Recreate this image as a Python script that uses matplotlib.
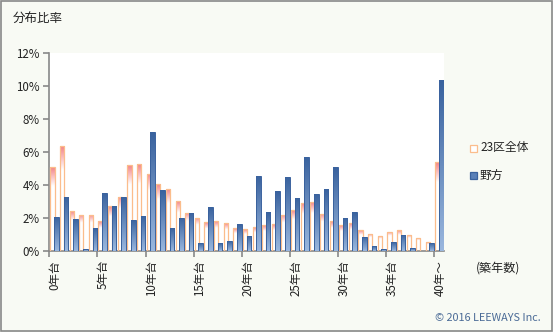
import numpy as np
import matplotlib.pyplot as plt
from matplotlib.colors import LinearSegmentedColormap

plt.rcParams['font.family'] = ['Noto Sans CJK JP', 'DejaVu Sans']

# 築年数ごとの分布比率 (%)
years = list(range(41))
ward23 = [5.08, 6.35, 2.42, 2.18, 2.18, 1.81, 2.72, 3.27, 5.20, 5.26,
          4.66, 4.05, 3.75, 3.02, 2.30, 2.00, 1.75, 1.81, 1.69, 1.39,
          1.33, 1.45, 1.57, 1.63, 2.18, 2.48, 2.90, 2.96, 2.24, 1.81,
          1.57, 1.69, 1.27, 1.03, 0.91, 1.15, 1.27, 0.97, 0.79, 0.54,
          5.38]
nogata = [2.06, 3.27, 1.94, 0.12, 1.39, 3.51, 2.72, 3.27, 1.88, 2.12,
          7.20, 3.69, 1.39, 2.00, 2.30, 0.48, 2.66, 0.48, 0.60, 1.63,
          0.91, 4.54, 2.36, 3.63, 4.48, 3.21, 5.69, 3.45, 3.75, 5.08,
          2.00, 2.36, 0.85, 0.30, 0.12, 0.54, 0.97, 0.18, 0.00, 0.48,
          10.34]
tick_pos = [0, 5, 10, 15, 20, 25, 30, 35, 40]
tick_labels = ['0年台', '5年台', '10年台', '15年台', '20年台', '25年台',
               '30年台', '35年台', '40年～']

bg = '#f8faf4'
fig = plt.figure(figsize=(5.53, 3.32), dpi=100, facecolor=bg)
ax = fig.add_axes([49.3 / 553, 1 - 251 / 332, (444 - 49.3) / 553, (251 - 52.7) / 332])
ax.set_facecolor('white')

pink_cmap = LinearSegmentedColormap.from_list(
    'pk', [(0, '#ffffff'), (0.78, '#ffffff'), (1.0, '#f4868a')])
blue_cmap = LinearSegmentedColormap.from_list('bl', ['#9ab7de', '#39629e'])
grad = np.linspace(0, 1, 64).reshape(-1, 1)

x = np.arange(len(years))
w = 0.44
bars_p = ax.bar(x - 0.17, ward23, width=w, facecolor='none', edgecolor='#fbbd8c',
                linewidth=0.9, zorder=3)
bars_b = ax.bar(x + 0.23, nogata, width=w + 0.04, facecolor='none', edgecolor='#3a629e',
                linewidth=0.7, zorder=5)


def fill_gradient(bars, cmap, z):
    for b in bars:
        h = b.get_height()
        if h <= 0:
            continue
        x0 = b.get_x()
        im = ax.imshow(grad, cmap=cmap, aspect='auto', origin='lower',
                       extent=(x0, x0 + b.get_width(), 0, h), zorder=z,
                       interpolation='bilinear')
        im.set_clip_path(b)


fill_gradient(bars_p, pink_cmap, 2)
fill_gradient(bars_b, blue_cmap, 4)

ax.set_xlim(-0.5, 40.5)
ax.set_ylim(0, 12)
ax.set_yticks(range(0, 13, 2))
ax.set_yticklabels([f'{v}%' for v in range(0, 13, 2)], fontsize=8.3, color='#222222')
ax.set_xticks([p - 0.5 for p in tick_pos])
ax.set_xticklabels([])
for p, lab in zip(tick_pos, tick_labels):
    ax.text(p + 0.1, -0.55, lab, rotation=90, ha='center', va='top',
            fontsize=8.3, color='#222222')

for side in ['top', 'right']:
    ax.spines[side].set_visible(False)
for side in ['left', 'bottom']:
    ax.spines[side].set_color('#888888')
    ax.spines[side].set_linewidth(1.2)
ax.tick_params(axis='both', direction='out', length=4, color='#888888', width=1.2)
ax.tick_params(axis='y', pad=3)

fig.text(13 / 553, 1 - 18 / 332, '分布比率', fontsize=9, va='center', color='#222222')
fig.text(476 / 553, 1 - 268 / 332, '(築年数)', fontsize=8.7, va='center', color='#222222')

# legend
fig.patches.append(plt.Rectangle((470 / 553, 1 - 152 / 332), 7 / 553, 7 / 332,
                                 transform=fig.transFigure, facecolor='white',
                                 edgecolor='#fbbd8c', linewidth=0.9))
fig.patches.append(plt.Rectangle((470 / 553, 1 - 179 / 332), 7 / 553, 7 / 332,
                                 transform=fig.transFigure, facecolor='#5a80b8',
                                 edgecolor='#3a629e', linewidth=0.9))
fig.text(480 / 553, 1 - 148 / 332, '23区全体', fontsize=8.5, va='center', color='#222222')
fig.text(480 / 553, 1 - 175 / 332, '野方', fontsize=8.5, va='center', color='#222222')

fig.text(541 / 553, 1 - 318 / 332, '© 2016 LEEWAYS Inc.', fontsize=7.8, ha='right',
         va='center', color='#4a6a96')

fig.patches.append(plt.Rectangle((1 / 553, 1 / 332), 551 / 553, 330 / 332,
                                 transform=fig.transFigure, facecolor='none',
                                 edgecolor='#888888', linewidth=1.2))

fig.savefig('out.png', dpi=100, facecolor=bg)
